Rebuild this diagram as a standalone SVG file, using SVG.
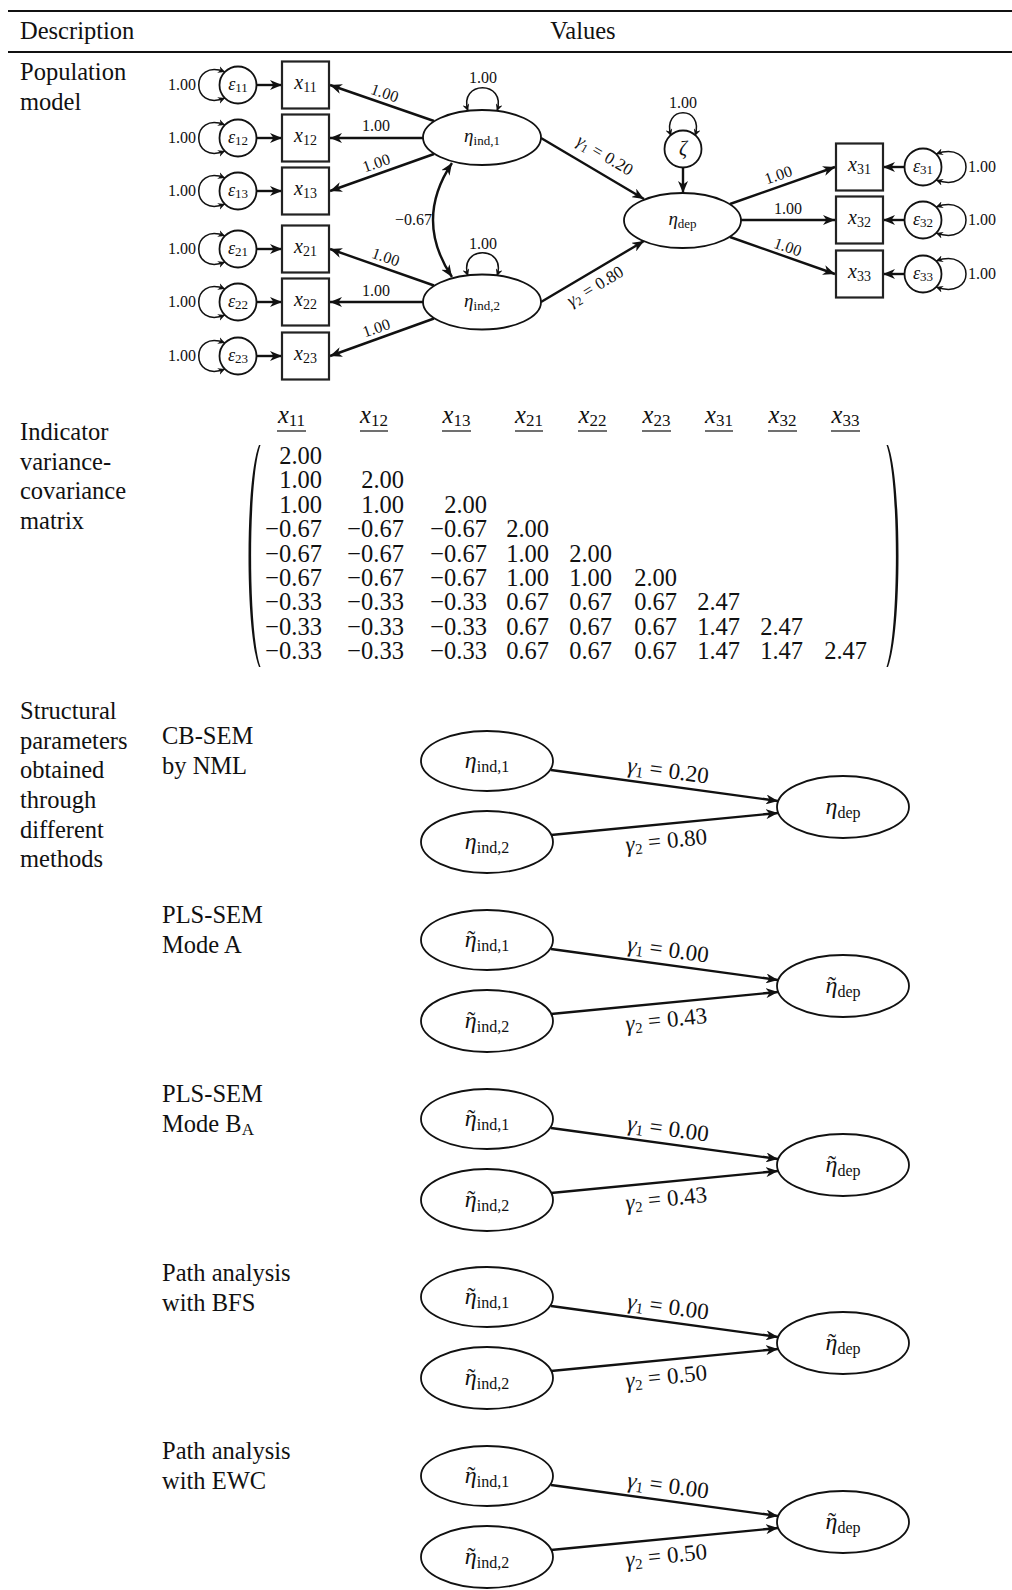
<svg xmlns="http://www.w3.org/2000/svg" width="1012" height="1590" viewBox="0 0 1012 1590">
<style>
text{font-family:"Liberation Serif","Times New Roman",serif;fill:#111}
.b{font-size:24.5px}
.s{font-size:16px}
.n{font-size:18px}
.i{font-style:italic}
.ln{stroke:#111;stroke-width:2.4;fill:none}
.lp{stroke:#111;stroke-width:1.5;fill:none}
.nd{fill:#fff;stroke:#111;stroke-width:1.8}
.bx{fill:#fff;stroke:#222;stroke-width:2.2}
.rule{stroke:#111;stroke-width:2.2}
.pr{fill:#111;stroke:none}
</style>
<defs>
<marker id="ah" viewBox="0 0 12 10" refX="12" refY="5" markerWidth="12" markerHeight="10" markerUnits="userSpaceOnUse" orient="auto-start-reverse"><path d="M0,0 L12,5 L0,10 L3.5,5z" fill="#111"/></marker>
<marker id="as" viewBox="0 0 8 8" refX="8" refY="4" markerWidth="7" markerHeight="7" markerUnits="userSpaceOnUse" orient="auto-start-reverse"><path d="M0,0 L8,4 L0,8 L2.5,4z" fill="#111"/></marker>
</defs>

<!-- table rules and headers -->
<line class="rule" x1="8" y1="11" x2="1012" y2="11"/>
<line class="rule" x1="8" y1="52" x2="1012" y2="52"/>
<text class="b" x="20" y="39">Description</text>
<text class="b" x="583" y="39" text-anchor="middle">Values</text>

<text class="b" x="20" y="80">Population</text>
<text class="b" x="20" y="110">model</text>

<text class="b" x="20" y="440">Indicator</text>
<text class="b" x="20" y="470">variance-</text>
<text class="b" x="20" y="499">covariance</text>
<text class="b" x="20" y="529">matrix</text>

<text class="b" x="20" y="719">Structural</text>
<text class="b" x="20" y="749">parameters</text>
<text class="b" x="20" y="778">obtained</text>
<text class="b" x="20" y="808">through</text>
<text class="b" x="20" y="838">different</text>
<text class="b" x="20" y="867">methods</text>

<text class="b" x="162" y="744">CB-SEM</text>
<text class="b" x="162" y="774">by NML</text>
<text class="b" x="162" y="923">PLS-SEM</text>
<text class="b" x="162" y="953">Mode A</text>
<text class="b" x="162" y="1102">PLS-SEM</text>
<text class="b" x="162" y="1132">Mode B<tspan font-size="17" dy="3">A</tspan></text>
<text class="b" x="162" y="1281">Path analysis</text>
<text class="b" x="162" y="1311">with BFS</text>
<text class="b" x="162" y="1459">Path analysis</text>
<text class="b" x="162" y="1489">with EWC</text>

<!-- ===== Population model ===== -->
<g id="connectors-pop">
  <path class="lp" d="M225,72 C190,58 190,112 225,98" marker-start="url(#as)" marker-end="url(#as)"/>
  <path class="lp" d="M225,125 C190,111 190,165 225,151" marker-start="url(#as)" marker-end="url(#as)"/>
  <path class="lp" d="M225,178 C190,164 190,218 225,204" marker-start="url(#as)" marker-end="url(#as)"/>
  <path class="lp" d="M225,236 C190,222 190,276 225,262" marker-start="url(#as)" marker-end="url(#as)"/>
  <path class="lp" d="M225,289 C190,275 190,329 225,315" marker-start="url(#as)" marker-end="url(#as)"/>
  <path class="lp" d="M225,343 C190,329 190,383 225,369" marker-start="url(#as)" marker-end="url(#as)"/>
  <path class="lp" d="M936,154 C976,140 976,194 936,180" marker-start="url(#as)" marker-end="url(#as)"/>
  <path class="lp" d="M936,207 C976,193 976,247 936,233" marker-start="url(#as)" marker-end="url(#as)"/>
  <path class="lp" d="M936,261 C976,247 976,301 936,287" marker-start="url(#as)" marker-end="url(#as)"/>
  <path class="lp" d="M468,111 C458,80 507,80 497,111" marker-start="url(#as)" marker-end="url(#as)"/>
  <path class="lp" d="M468,276 C458,245 507,245 497,276" marker-start="url(#as)" marker-end="url(#as)"/>
  <path class="lp" d="M671,136 C661,105 705,105 695,136" marker-start="url(#as)" marker-end="url(#as)"/>
  <path class="ln" d="M257,85 L282,85" marker-end="url(#ah)"/>
  <path class="ln" d="M257,138 L282,138" marker-end="url(#ah)"/>
  <path class="ln" d="M257,191 L282,191" marker-end="url(#ah)"/>
  <path class="ln" d="M257,249 L282,249" marker-end="url(#ah)"/>
  <path class="ln" d="M257,302 L282,302" marker-end="url(#ah)"/>
  <path class="ln" d="M257,356 L282,356" marker-end="url(#ah)"/>
  <path class="ln" d="M904,167 L883,167" marker-end="url(#ah)"/>
  <path class="ln" d="M904,220 L883,220" marker-end="url(#ah)"/>
  <path class="ln" d="M904,274 L883,274" marker-end="url(#ah)"/>
  <path class="ln" d="M434,121 L330,85" marker-end="url(#ah)"/>
  <path class="ln" d="M423,138 L330,138" marker-end="url(#ah)"/>
  <path class="ln" d="M434,154 L330,191" marker-end="url(#ah)"/>
  <path class="ln" d="M434,285.5 L330,249" marker-end="url(#ah)"/>
  <path class="ln" d="M423,302 L330,302" marker-end="url(#ah)"/>
  <path class="ln" d="M434,318.5 L330,356" marker-end="url(#ah)"/>
  <path class="ln" d="M730,204 L835,167" marker-end="url(#ah)"/>
  <path class="ln" d="M741,220 L835,220" marker-end="url(#ah)"/>
  <path class="ln" d="M730,237 L835,274" marker-end="url(#ah)"/>
  <path class="ln" d="M541,138 L644,199" marker-end="url(#ah)"/>
  <path class="ln" d="M541,302 L644,241" marker-end="url(#ah)"/>
  <path class="ln" d="M683,167.5 L683,193" marker-end="url(#ah)"/>
  <path class="ln" d="M452,277 Q414,220 452,163" marker-start="url(#ah)" marker-end="url(#ah)"/>
</g>

<g id="connector-labels">
  <text class="s" x="196" y="90" text-anchor="end">1.00</text>
  <text class="s" x="196" y="143" text-anchor="end">1.00</text>
  <text class="s" x="196" y="196" text-anchor="end">1.00</text>
  <text class="s" x="196" y="254" text-anchor="end">1.00</text>
  <text class="s" x="196" y="307" text-anchor="end">1.00</text>
  <text class="s" x="196" y="361" text-anchor="end">1.00</text>
  <text class="s" x="968" y="172">1.00</text>
  <text class="s" x="968" y="225">1.00</text>
  <text class="s" x="968" y="279">1.00</text>
  <text class="s" x="483" y="83" text-anchor="middle">1.00</text>
  <text class="s" x="483" y="249" text-anchor="middle">1.00</text>
  <text class="s" x="683" y="108" text-anchor="middle">1.00</text>
  <text class="s" x="432" y="225" text-anchor="end">−0.67</text>
  <text class="s" text-anchor="middle" transform="translate(383,98) rotate(19)">1.00</text>
  <text class="s" x="376" y="131" text-anchor="middle">1.00</text>
  <text class="s" text-anchor="middle" transform="translate(378,168) rotate(-19)">1.00</text>
  <text class="s" text-anchor="middle" transform="translate(384,262) rotate(19)">1.00</text>
  <text class="s" x="376" y="296" text-anchor="middle">1.00</text>
  <text class="s" text-anchor="middle" transform="translate(378,333) rotate(-19)">1.00</text>
  <text class="s" text-anchor="middle" transform="translate(780,180) rotate(-19)">1.00</text>
  <text class="s" x="788" y="214" text-anchor="middle">1.00</text>
  <text class="s" text-anchor="middle" transform="translate(786,252) rotate(19)">1.00</text>
  <text font-size="17" text-anchor="middle" transform="translate(602,160) rotate(31)"><tspan class="i" font-size="18">γ</tspan><tspan font-size="12" dy="3">1</tspan><tspan dx="5" dy="-3">=</tspan><tspan dx="5">0.20</tspan></text>
  <text font-size="17" text-anchor="middle" transform="translate(598,291) rotate(-31)"><tspan class="i" font-size="18">γ</tspan><tspan font-size="12" dy="3">2</tspan><tspan dx="5" dy="-3">=</tspan><tspan dx="5">0.80</tspan></text>
</g>

<g id="e11"><circle class="nd" cx="238" cy="85" r="18.5"/><text class="n" x="238" y="90" text-anchor="middle"><tspan class="i">ε</tspan><tspan font-size="13" dy="2">11</tspan></text></g>
<g id="e12"><circle class="nd" cx="238" cy="138" r="18.5"/><text class="n" x="238" y="143" text-anchor="middle"><tspan class="i">ε</tspan><tspan font-size="13" dy="2">12</tspan></text></g>
<g id="e13"><circle class="nd" cx="238" cy="191" r="18.5"/><text class="n" x="238" y="196" text-anchor="middle"><tspan class="i">ε</tspan><tspan font-size="13" dy="2">13</tspan></text></g>
<g id="e21"><circle class="nd" cx="238" cy="249" r="18.5"/><text class="n" x="238" y="254" text-anchor="middle"><tspan class="i">ε</tspan><tspan font-size="13" dy="2">21</tspan></text></g>
<g id="e22"><circle class="nd" cx="238" cy="302" r="18.5"/><text class="n" x="238" y="307" text-anchor="middle"><tspan class="i">ε</tspan><tspan font-size="13" dy="2">22</tspan></text></g>
<g id="e23"><circle class="nd" cx="238" cy="356" r="18.5"/><text class="n" x="238" y="361" text-anchor="middle"><tspan class="i">ε</tspan><tspan font-size="13" dy="2">23</tspan></text></g>
<g id="e31"><circle class="nd" cx="923" cy="167" r="18.5"/><text class="n" x="923" y="172" text-anchor="middle"><tspan class="i">ε</tspan><tspan font-size="13" dy="2">31</tspan></text></g>
<g id="e32"><circle class="nd" cx="923" cy="220" r="18.5"/><text class="n" x="923" y="225" text-anchor="middle"><tspan class="i">ε</tspan><tspan font-size="13" dy="2">32</tspan></text></g>
<g id="e33"><circle class="nd" cx="923" cy="274" r="18.5"/><text class="n" x="923" y="279" text-anchor="middle"><tspan class="i">ε</tspan><tspan font-size="13" dy="2">33</tspan></text></g>

<g id="x11"><rect class="bx" x="282" y="61.5" width="47" height="47"/><text class="n" x="305.5" y="89" text-anchor="middle"><tspan class="i" font-size="20">x</tspan><tspan font-size="14" dy="3">11</tspan></text></g>
<g id="x12"><rect class="bx" x="282" y="114.5" width="47" height="47"/><text class="n" x="305.5" y="142" text-anchor="middle"><tspan class="i" font-size="20">x</tspan><tspan font-size="14" dy="3">12</tspan></text></g>
<g id="x13"><rect class="bx" x="282" y="167.5" width="47" height="47"/><text class="n" x="305.5" y="195" text-anchor="middle"><tspan class="i" font-size="20">x</tspan><tspan font-size="14" dy="3">13</tspan></text></g>
<g id="x21"><rect class="bx" x="282" y="225.5" width="47" height="47"/><text class="n" x="305.5" y="253" text-anchor="middle"><tspan class="i" font-size="20">x</tspan><tspan font-size="14" dy="3">21</tspan></text></g>
<g id="x22"><rect class="bx" x="282" y="278.5" width="47" height="47"/><text class="n" x="305.5" y="306" text-anchor="middle"><tspan class="i" font-size="20">x</tspan><tspan font-size="14" dy="3">22</tspan></text></g>
<g id="x23"><rect class="bx" x="282" y="332.5" width="47" height="47"/><text class="n" x="305.5" y="360" text-anchor="middle"><tspan class="i" font-size="20">x</tspan><tspan font-size="14" dy="3">23</tspan></text></g>
<g id="x31"><rect class="bx" x="836" y="143.5" width="47" height="47"/><text class="n" x="859.5" y="171" text-anchor="middle"><tspan class="i" font-size="20">x</tspan><tspan font-size="14" dy="3">31</tspan></text></g>
<g id="x32"><rect class="bx" x="836" y="196.5" width="47" height="47"/><text class="n" x="859.5" y="224" text-anchor="middle"><tspan class="i" font-size="20">x</tspan><tspan font-size="14" dy="3">32</tspan></text></g>
<g id="x33"><rect class="bx" x="836" y="250.5" width="47" height="47"/><text class="n" x="859.5" y="278" text-anchor="middle"><tspan class="i" font-size="20">x</tspan><tspan font-size="14" dy="3">33</tspan></text></g>

<g id="eta_ind1"><ellipse class="nd" cx="482" cy="137.5" rx="59" ry="27.5"/><text class="n" x="482" y="142" text-anchor="middle"><tspan class="i" font-size="19">η</tspan><tspan font-size="13" dy="3">ind,1</tspan></text></g>
<g id="eta_ind2"><ellipse class="nd" cx="482" cy="302" rx="59" ry="27.5"/><text class="n" x="482" y="306.5" text-anchor="middle"><tspan class="i" font-size="19">η</tspan><tspan font-size="13" dy="3">ind,2</tspan></text></g>
<g id="eta_dep"><ellipse class="nd" cx="682.5" cy="220.5" rx="58.5" ry="27.5"/><text class="n" x="682.5" y="225" text-anchor="middle"><tspan class="i" font-size="19">η</tspan><tspan font-size="13" dy="3">dep</tspan></text></g>
<g id="zeta"><circle class="nd" cx="683" cy="149" r="18.5"/><text class="i" font-size="20" x="683" y="155" text-anchor="middle">ζ</text></g>

<!-- ===== Matrix ===== -->
<g id="matrix">
  <g class="b" text-anchor="middle">
    <text x="291.5" y="423"><tspan class="i">x</tspan><tspan font-size="17" dy="3">11</tspan></text>
    <text x="374" y="423"><tspan class="i">x</tspan><tspan font-size="17" dy="3">12</tspan></text>
    <text x="456.5" y="423"><tspan class="i">x</tspan><tspan font-size="17" dy="3">13</tspan></text>
    <text x="529" y="423"><tspan class="i">x</tspan><tspan font-size="17" dy="3">21</tspan></text>
    <text x="592.5" y="423"><tspan class="i">x</tspan><tspan font-size="17" dy="3">22</tspan></text>
    <text x="656.5" y="423"><tspan class="i">x</tspan><tspan font-size="17" dy="3">23</tspan></text>
    <text x="719" y="423"><tspan class="i">x</tspan><tspan font-size="17" dy="3">31</tspan></text>
    <text x="782.5" y="423"><tspan class="i">x</tspan><tspan font-size="17" dy="3">32</tspan></text>
    <text x="845.5" y="423"><tspan class="i">x</tspan><tspan font-size="17" dy="3">33</tspan></text>
  </g>
  <g stroke="#111" stroke-width="1.2">
    <line x1="277" y1="431" x2="306" y2="431"/>
    <line x1="360" y1="431" x2="388" y2="431"/>
    <line x1="442" y1="431" x2="471" y2="431"/>
    <line x1="515" y1="431" x2="543" y2="431"/>
    <line x1="578" y1="431" x2="607" y2="431"/>
    <line x1="642" y1="431" x2="671" y2="431"/>
    <line x1="705" y1="431" x2="733" y2="431"/>
    <line x1="768" y1="431" x2="797" y2="431"/>
    <line x1="831" y1="431" x2="860" y2="431"/>
  </g>
  <path class="pr" d="M259,445 C245,480 245,632 259,667 L260.5,667 C248,632 248,480 260.5,445 Z"/>
  <path class="pr" d="M888,445 C902,480 902,632 888,667 L886.5,667 C899,632 899,480 886.5,445 Z"/>
  <g class="b" text-anchor="end">
    <text x="322" y="464">2.00</text>
    <text x="322" y="488.4">1.00</text><text x="404" y="488.4">2.00</text>
    <text x="322" y="512.8">1.00</text><text x="404" y="512.8">1.00</text><text x="487" y="512.8">2.00</text>
    <text x="322" y="537.2">−0.67</text><text x="404" y="537.2">−0.67</text><text x="487" y="537.2">−0.67</text><text x="549" y="537.2">2.00</text>
    <text x="322" y="561.6">−0.67</text><text x="404" y="561.6">−0.67</text><text x="487" y="561.6">−0.67</text><text x="549" y="561.6">1.00</text><text x="612" y="561.6">2.00</text>
    <text x="322" y="586">−0.67</text><text x="404" y="586">−0.67</text><text x="487" y="586">−0.67</text><text x="549" y="586">1.00</text><text x="612" y="586">1.00</text><text x="677" y="586">2.00</text>
    <text x="322" y="610.4">−0.33</text><text x="404" y="610.4">−0.33</text><text x="487" y="610.4">−0.33</text><text x="549" y="610.4">0.67</text><text x="612" y="610.4">0.67</text><text x="677" y="610.4">0.67</text><text x="740" y="610.4">2.47</text>
    <text x="322" y="634.8">−0.33</text><text x="404" y="634.8">−0.33</text><text x="487" y="634.8">−0.33</text><text x="549" y="634.8">0.67</text><text x="612" y="634.8">0.67</text><text x="677" y="634.8">0.67</text><text x="740" y="634.8">1.47</text><text x="803" y="634.8">2.47</text>
    <text x="322" y="659.2">−0.33</text><text x="404" y="659.2">−0.33</text><text x="487" y="659.2">−0.33</text><text x="549" y="659.2">0.67</text><text x="612" y="659.2">0.67</text><text x="677" y="659.2">0.67</text><text x="740" y="659.2">1.47</text><text x="803" y="659.2">1.47</text><text x="867" y="659.2">2.47</text>
  </g>
</g>

<!-- ===== Structural models ===== -->
<g id="connectors-struct">
  <path class="ln" d="M551,770 L778,801" marker-end="url(#ah)"/>
  <path class="ln" d="M551,835 L778,813" marker-end="url(#ah)"/>
  <path class="ln" d="M551,949 L778,980" marker-end="url(#ah)"/>
  <path class="ln" d="M551,1014 L778,992" marker-end="url(#ah)"/>
  <path class="ln" d="M551,1128 L778,1159" marker-end="url(#ah)"/>
  <path class="ln" d="M551,1193 L778,1171" marker-end="url(#ah)"/>
  <path class="ln" d="M551,1306 L778,1337" marker-end="url(#ah)"/>
  <path class="ln" d="M551,1371 L778,1349" marker-end="url(#ah)"/>
  <path class="ln" d="M551,1485 L778,1516" marker-end="url(#ah)"/>
  <path class="ln" d="M551,1550 L778,1528" marker-end="url(#ah)"/>
</g>
<g id="struct-labels" font-size="23">
  <text text-anchor="middle" transform="translate(667,778) rotate(7.8)"><tspan class="i">γ</tspan><tspan font-size="15" dy="3">1</tspan><tspan dx="6" dy="-3">=</tspan><tspan dx="6">0.20</tspan></text>
  <text text-anchor="middle" transform="translate(667,848) rotate(-5.8)"><tspan class="i">γ</tspan><tspan font-size="15" dy="3">2</tspan><tspan dx="6" dy="-3">=</tspan><tspan dx="6">0.80</tspan></text>
  <text text-anchor="middle" transform="translate(667,957) rotate(7.8)"><tspan class="i">γ</tspan><tspan font-size="15" dy="3">1</tspan><tspan dx="6" dy="-3">=</tspan><tspan dx="6">0.00</tspan></text>
  <text text-anchor="middle" transform="translate(667,1027) rotate(-5.8)"><tspan class="i">γ</tspan><tspan font-size="15" dy="3">2</tspan><tspan dx="6" dy="-3">=</tspan><tspan dx="6">0.43</tspan></text>
  <text text-anchor="middle" transform="translate(667,1136) rotate(7.8)"><tspan class="i">γ</tspan><tspan font-size="15" dy="3">1</tspan><tspan dx="6" dy="-3">=</tspan><tspan dx="6">0.00</tspan></text>
  <text text-anchor="middle" transform="translate(667,1206) rotate(-5.8)"><tspan class="i">γ</tspan><tspan font-size="15" dy="3">2</tspan><tspan dx="6" dy="-3">=</tspan><tspan dx="6">0.43</tspan></text>
  <text text-anchor="middle" transform="translate(667,1314) rotate(7.8)"><tspan class="i">γ</tspan><tspan font-size="15" dy="3">1</tspan><tspan dx="6" dy="-3">=</tspan><tspan dx="6">0.00</tspan></text>
  <text text-anchor="middle" transform="translate(667,1384) rotate(-5.8)"><tspan class="i">γ</tspan><tspan font-size="15" dy="3">2</tspan><tspan dx="6" dy="-3">=</tspan><tspan dx="6">0.50</tspan></text>
  <text text-anchor="middle" transform="translate(667,1493) rotate(7.8)"><tspan class="i">γ</tspan><tspan font-size="15" dy="3">1</tspan><tspan dx="6" dy="-3">=</tspan><tspan dx="6">0.00</tspan></text>
  <text text-anchor="middle" transform="translate(667,1563) rotate(-5.8)"><tspan class="i">γ</tspan><tspan font-size="15" dy="3">2</tspan><tspan dx="6" dy="-3">=</tspan><tspan dx="6">0.50</tspan></text>
</g>

<g id="s1_ind1"><ellipse class="nd" cx="487" cy="761" rx="66" ry="30"/><text font-size="24" x="487" y="768" text-anchor="middle"><tspan class="i">η</tspan><tspan font-size="16" dy="4">ind,1</tspan></text></g>
<g id="s1_ind2"><ellipse class="nd" cx="487" cy="842" rx="66" ry="31"/><text font-size="24" x="487" y="849" text-anchor="middle"><tspan class="i">η</tspan><tspan font-size="16" dy="4">ind,2</tspan></text></g>
<g id="s1_dep"><ellipse class="nd" cx="843" cy="807" rx="66" ry="31"/><text font-size="24" x="843" y="814" text-anchor="middle"><tspan class="i">η</tspan><tspan font-size="16" dy="4">dep</tspan></text></g>

<g id="s2_ind1"><ellipse class="nd" cx="487" cy="940" rx="66" ry="30"/><text font-size="24" x="487" y="947" text-anchor="middle"><tspan class="i">η</tspan><tspan dx="-9.5">˜</tspan><tspan font-size="16" dx="1.5" dy="4">ind,1</tspan></text></g>
<g id="s2_ind2"><ellipse class="nd" cx="487" cy="1021" rx="66" ry="31"/><text font-size="24" x="487" y="1028" text-anchor="middle"><tspan class="i">η</tspan><tspan dx="-9.5">˜</tspan><tspan font-size="16" dx="1.5" dy="4">ind,2</tspan></text></g>
<g id="s2_dep"><ellipse class="nd" cx="843" cy="986" rx="66" ry="31"/><text font-size="24" x="843" y="993" text-anchor="middle"><tspan class="i">η</tspan><tspan dx="-9.5">˜</tspan><tspan font-size="16" dx="1.5" dy="4">dep</tspan></text></g>

<g id="s3_ind1"><ellipse class="nd" cx="487" cy="1119" rx="66" ry="30"/><text font-size="24" x="487" y="1126" text-anchor="middle"><tspan class="i">η</tspan><tspan dx="-9.5">˜</tspan><tspan font-size="16" dx="1.5" dy="4">ind,1</tspan></text></g>
<g id="s3_ind2"><ellipse class="nd" cx="487" cy="1200" rx="66" ry="31"/><text font-size="24" x="487" y="1207" text-anchor="middle"><tspan class="i">η</tspan><tspan dx="-9.5">˜</tspan><tspan font-size="16" dx="1.5" dy="4">ind,2</tspan></text></g>
<g id="s3_dep"><ellipse class="nd" cx="843" cy="1165" rx="66" ry="31"/><text font-size="24" x="843" y="1172" text-anchor="middle"><tspan class="i">η</tspan><tspan dx="-9.5">˜</tspan><tspan font-size="16" dx="1.5" dy="4">dep</tspan></text></g>

<g id="s4_ind1"><ellipse class="nd" cx="487" cy="1297" rx="66" ry="30"/><text font-size="24" x="487" y="1304" text-anchor="middle"><tspan class="i">η</tspan><tspan dx="-9.5">˜</tspan><tspan font-size="16" dx="1.5" dy="4">ind,1</tspan></text></g>
<g id="s4_ind2"><ellipse class="nd" cx="487" cy="1378" rx="66" ry="31"/><text font-size="24" x="487" y="1385" text-anchor="middle"><tspan class="i">η</tspan><tspan dx="-9.5">˜</tspan><tspan font-size="16" dx="1.5" dy="4">ind,2</tspan></text></g>
<g id="s4_dep"><ellipse class="nd" cx="843" cy="1343" rx="66" ry="31"/><text font-size="24" x="843" y="1350" text-anchor="middle"><tspan class="i">η</tspan><tspan dx="-9.5">˜</tspan><tspan font-size="16" dx="1.5" dy="4">dep</tspan></text></g>

<g id="s5_ind1"><ellipse class="nd" cx="487" cy="1476" rx="66" ry="30"/><text font-size="24" x="487" y="1483" text-anchor="middle"><tspan class="i">η</tspan><tspan dx="-9.5">˜</tspan><tspan font-size="16" dx="1.5" dy="4">ind,1</tspan></text></g>
<g id="s5_ind2"><ellipse class="nd" cx="487" cy="1557" rx="66" ry="31"/><text font-size="24" x="487" y="1564" text-anchor="middle"><tspan class="i">η</tspan><tspan dx="-9.5">˜</tspan><tspan font-size="16" dx="1.5" dy="4">ind,2</tspan></text></g>
<g id="s5_dep"><ellipse class="nd" cx="843" cy="1522" rx="66" ry="31"/><text font-size="24" x="843" y="1529" text-anchor="middle"><tspan class="i">η</tspan><tspan dx="-9.5">˜</tspan><tspan font-size="16" dx="1.5" dy="4">dep</tspan></text></g>
</svg>
